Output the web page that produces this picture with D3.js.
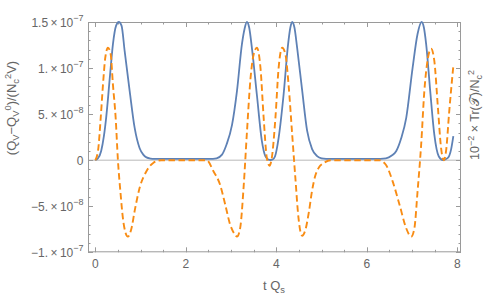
<!DOCTYPE html>
<html>
<head>
<meta charset="utf-8">
<script src="https://cdn.jsdelivr.net/npm/d3@7"></script>
<style>
  body { margin: 0; background: #fff; }
  svg { font-family: "Liberation Sans", Arial, sans-serif; }
</style>
</head>
<body>
<div class="canvas-graph"></div>
<script>
// values, y in units of 1e-8
const blueT = [0, 0.06, 0.13, 0.19, 0.24, 0.32, 0.39, 0.46, 0.52, 0.58, 0.65, 0.76, 0.87, 0.98, 1.06, 1.13, 1.22, 1.31, 1.6, 2.0, 2.4, 2.6,
  2.68, 2.80, 2.90, 3.02, 3.13, 3.24, 3.30, 3.35, 3.40, 3.46, 3.57, 3.68, 3.76, 3.82, 3.87, 3.92, 3.97, 4.05, 4.16, 4.26, 4.31, 4.35,
  4.40, 4.46, 4.57, 4.68, 4.79, 4.90, 5.00, 5.10, 5.5, 6.0, 6.3,
  6.42, 6.55, 6.65, 6.76, 6.87, 7.01, 7.12, 7.21, 7.26, 7.31, 7.40, 7.49, 7.59, 7.68, 7.79, 7.86, 7.91];
const blueV = [0, 0.2, 1.0, 2.6, 4.6, 8.9, 12.6, 14.6, 15.0, 14.6, 11.8, 7.5, 3.5, 1.3, 0.6, 0.3, 0.18, 0.15, 0.15, 0.15, 0.15, 0.15,
  0.2, 0.6, 1.7, 3.8, 7.5, 12.6, 14.3, 15.0, 14.4, 12.2, 7.1, 2.1, 0.4, 0.08, 0.02, 0.08, 0.4, 2.4, 7.1, 12.6, 14.4, 15.0,
  14.4, 12.2, 7.6, 3.2, 1.2, 0.45, 0.2, 0.15, 0.15, 0.15, 0.15,
  0.2, 0.5, 1.0, 2.4, 4.6, 10.0, 13.7, 15.0, 14.4, 12.6, 7.5, 2.8, 0.4, 0.02, 0.25, 1.15, 2.6];

const orangeT = [0, 0.06, 0.12, 0.17, 0.22, 0.28, 0.34, 0.39, 0.45, 0.50, 0.56, 0.61, 0.67, 0.72, 0.80, 0.87, 0.98, 1.13, 1.28, 1.46,
  2.0, 2.46, 2.61, 2.76, 2.87, 2.98, 3.09, 3.13, 3.20, 3.28, 3.35, 3.43, 3.50, 3.57, 3.65, 3.72, 3.79, 3.85, 3.90, 3.98, 4.05,
  4.13, 4.20, 4.27, 4.35, 4.42, 4.49, 4.57, 4.64, 4.72, 4.79, 4.86, 4.94, 5.05, 5.20, 5.8, 6.27, 6.42, 6.57, 6.72, 6.87, 6.98,
  7.05, 7.12, 7.20, 7.27, 7.35, 7.42, 7.49, 7.57, 7.64, 7.70, 7.75, 7.82, 7.91];
const orangeV = [0, 1.0, 4.6, 8.2, 11.1, 12.2, 11.5, 8.2, 4.6, 0, -3.7, -6.3, -7.9, -8.3, -7.4, -5.5, -3.0, -1.2, -0.3, 0,
  0, 0, -1.2, -2.7, -4.8, -7.0, -8.1, -8.3, -7.4, -2.7, 3.0, 8.9, 11.5, 12.2, 10.0, 4.6, 0.25, -0.6, 0.25, 4.6, 10.0,
  12.2, 11.5, 8.2, 2.8, -1.9, -6.3, -8.2, -7.6, -5.6, -3.3, -1.7, -0.8, -0.3, 0, 0, 0, -0.5, -2.3, -4.8, -7.4, -8.3,
  -7.4, -3.4, 1.7, 7.5, 11.1, 12.1, 10.8, 5.7, 1.3, 0, 1.0, 5.3, 10.2];

const xTicks = [0, 2, 4, 6, 8];
const yTicks = [15, 10, 5, 0, -5, -10];
const yTickLabels = [["1.5", "7"], ["1.", "7"], ["5.", "8"], ["0", null], ["\u22125.", "8"], ["\u22121.", "7"]];

const dims = { width: 486, height: 297 };
const frame = { left: 88, right: 461, top: 22, bottom: 252.3 };
const gray = '#9a9a9a';
const textCol = '#666';

const svg = d3.select('.canvas-graph')
  .append('svg')
  .attr('width', dims.width)
  .attr('height', dims.height);

const x = d3.scaleLinear().domain([-0.161, 8.08]).range([frame.left, frame.right]);
const y = d3.scaleLinear().domain([-10, 15]).range([frame.bottom, frame.top]);

// zero line
svg.append('line')
  .attr('x1', frame.left).attr('x2', frame.right)
  .attr('y1', y(0)).attr('y2', y(0))
  .attr('stroke', '#b8b8b8').attr('stroke-width', 1);

// frame ticks
const minorX = d3.range(0, 8.01, 0.5);
const minorY = d3.range(-10, 15.01, 1);
const tk = svg.append('g').attr('stroke', gray).attr('stroke-width', 1);
minorX.forEach(v => {
  const len = v % 2 === 0 ? 5 : 2.5;
  const px = Math.round(x(v)) + 0.5;
  tk.append('line').attr('x1', px).attr('x2', px).attr('y1', frame.bottom).attr('y2', frame.bottom - len);
  tk.append('line').attr('x1', px).attr('x2', px).attr('y1', frame.top).attr('y2', frame.top + len);
});
minorY.forEach(v => {
  const len = v % 5 === 0 ? 5 : 2.5;
  const py = Math.round(y(v)) + 0.5;
  tk.append('line').attr('x1', frame.left).attr('x2', frame.left + len).attr('y1', py).attr('y2', py);
  tk.append('line').attr('x1', frame.right).attr('x2', frame.right - len).attr('y1', py).attr('y2', py);
});

svg.append('rect')
  .attr('x', frame.left + 0.5).attr('y', frame.top + 0.5)
  .attr('width', frame.right - frame.left - 1).attr('height', frame.bottom - frame.top - 1)
  .attr('fill', 'none').attr('stroke', gray).attr('stroke-width', 1);

// tick labels
svg.append('g').selectAll('text')
  .data(xTicks)
  .enter().append('text')
  .attr('x', d => x(d)).attr('y', 268)
  .attr('text-anchor', 'middle')
  .attr('font-size', 12).attr('fill', textCol)
  .text(d => d);

yTicks.forEach((v, i) => {
  const [mant, exp] = yTickLabels[i];
  const t = svg.append('text')
    .attr('x', 83.5).attr('y', y(v) + 4.5)
    .attr('text-anchor', 'end')
    .attr('font-size', 12).attr('fill', textCol);
  if (exp === null) {
    t.text(mant);
  } else {
    t.append('tspan').text(mant + '\u2009\u00d7\u200910');
    t.append('tspan').attr('dy', -5.5).attr('font-size', 9).text('\u2212' + exp);
  }
});

// rich text helper: parts of [string, 'n'|'sub'|'sup']
const richText = (sel, parts, size) => {
  let cur = 0;
  parts.forEach(([s, m]) => {
    const target = m === 'sub' ? 3 : m === 'sup' ? -5 : 0;
    sel.append('tspan')
      .attr('dy', target - cur)
      .attr('font-size', m === 'n' ? size : size * 0.72)
      .text(s);
    cur = target;
  });
};

const yTitle = svg.append('text')
  .attr('transform', 'translate(16,108) rotate(-90)')
  .attr('text-anchor', 'middle').attr('fill', textCol);
richText(yTitle, [['(Q', 'n'], ['V', 'sub'], ['\u2212Q', 'n'], ['V', 'sub'], ['0', 'sup'], [')/(N', 'n'], ['c', 'sub'], ['2', 'sup'], ['V)', 'n']], 13);

const rTitle = svg.append('text')
  .attr('transform', 'translate(479,115) rotate(-90)')
  .attr('text-anchor', 'middle').attr('fill', textCol);
richText(rTitle, [['10', 'n'], ['\u22122', 'sup'], [' \u00d7 Tr(\ud835\udcaf)/N', 'n'], ['c', 'sub'], ['2', 'sup']], 12.5);

const xTitle = svg.append('text')
  .attr('x', 274).attr('y', 290)
  .attr('text-anchor', 'middle').attr('fill', textCol);
richText(xTitle, [['t Q', 'n'], ['s', 'sub']], 13);

// curves
const line = d3.line()
  .x(d => x(d[0]))
  .y(d => y(d[1]))
  .curve(d3.curveMonotoneX);

svg.append('clipPath').attr('id', 'plot-clip')
  .append('rect')
  .attr('x', frame.left).attr('y', frame.top - 2)
  .attr('width', frame.right - frame.left).attr('height', frame.bottom - frame.top + 4);

const plot = svg.append('g').attr('clip-path', 'url(#plot-clip)');

plot.append('path')
  .attr('d', line(d3.zip(blueT, blueV)))
  .attr('fill', 'none')
  .attr('stroke', '#5e81b5')
  .attr('stroke-width', 1.8);

plot.append('path')
  .attr('d', line(d3.zip(orangeT, orangeV)))
  .attr('fill', 'none')
  .attr('stroke', '#f88c14')
  .attr('stroke-width', 1.9)
  .attr('stroke-dasharray', '6.5,3.5');
</script>
</body>
</html>
